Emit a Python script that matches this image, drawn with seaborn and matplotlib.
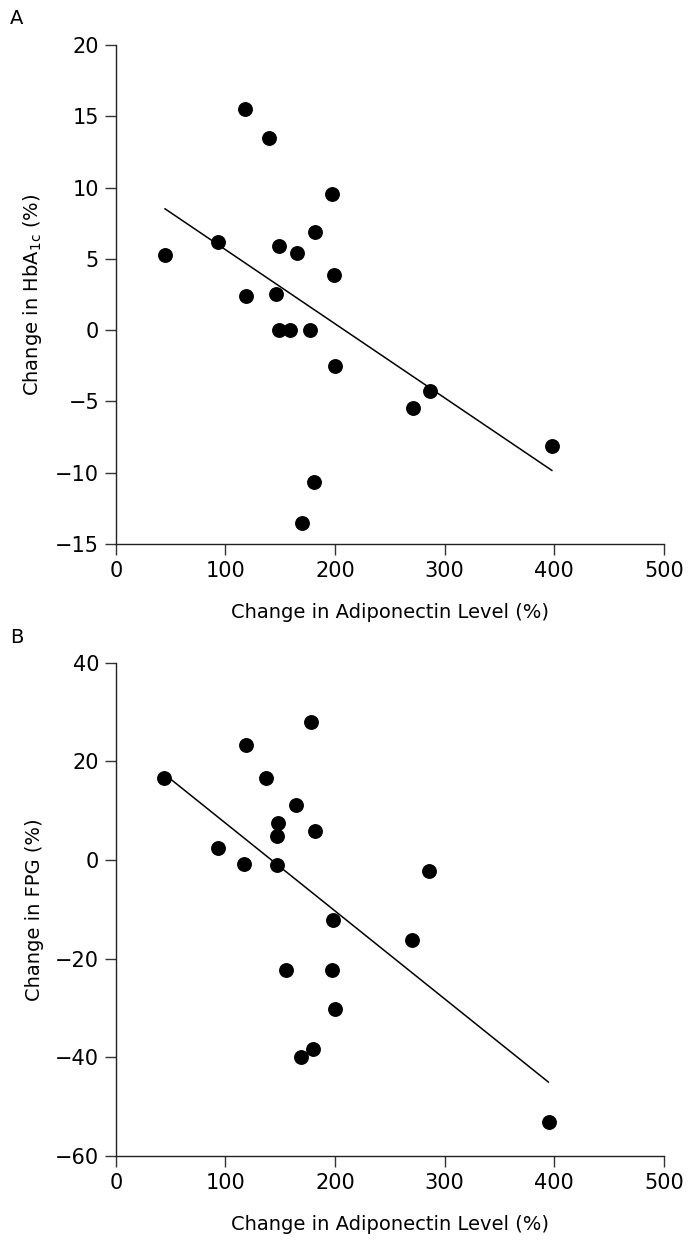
import numpy as np
import pandas as pd
import matplotlib
matplotlib.use('Agg')
import matplotlib.pyplot as plt
import seaborn as sns

# Painel A: variação da HbA1c vs variação da adiponectina
adipo_a = [44.8, 93.7, 117.7, 118.9, 140.1, 149.3, 146.1, 149.3, 159.3, 165.7,
           177.3, 197.0, 181.3, 199.0, 199.8, 180.5, 170.1, 271.4, 286.6, 397.9]
hba1c = [5.3, 6.2, 15.5, 2.4, 13.5, 5.9, 2.5, 0.0, 0.0, 5.4,
         0.0, 9.55, 6.9, 3.9, -2.55, -10.66, -13.5, -5.43, -4.3, -8.1]

# Painel B: variação da glicemia de jejum vs variação da adiponectina
adipo_b = [43.6, 93.7, 117.3, 118.9, 137.3, 164.1, 147.7, 146.9, 146.9, 178.1,
           181.3, 198.2, 155.7, 197.0, 199.8, 179.7, 168.9, 270.6, 285.8, 394.7]
fpg = [16.6, 2.4, -0.7, 23.4, 16.6, 11.1, 7.5, 4.9, -1.0, 27.9,
       5.8, -12.2, -22.3, -22.3, -30.2, -38.2, -39.9, -16.2, -2.2, -53.0]

x_ticks = [0, 100, 200, 300, 400, 500]
y_ticks_a = [-15, -10, -5, 0, 5, 10, 15, 20]
y_ticks_b = [-60, -40, -20, 0, 20, 40]

df_a = pd.DataFrame({'adipo': adipo_a, 'val': hba1c})
df_b = pd.DataFrame({'adipo': adipo_b, 'val': fpg})

sns.set_style('ticks')
plt.rcParams['font.family'] = ['DejaVu Sans']
plt.rcParams['text.color'] = 'black'
plt.rcParams['axes.labelcolor'] = 'black'
plt.rcParams['xtick.color'] = 'black'
plt.rcParams['ytick.color'] = 'black'

fig = plt.figure(figsize=(6.89, 12.42), dpi=100)
ax_a = fig.add_axes([0.168, 0.562, 0.7957, 0.4018])
ax_b = fig.add_axes([0.168, 0.0692, 0.7957, 0.3972])

paineis = [
    (ax_a, df_a, y_ticks_a, r'Change in HbA$_{\mathregular{1c}}$ (%)', 'A', 0.985),
    (ax_b, df_b, y_ticks_b, 'Change in FPG (%)', 'B', 0.487),
]

for ax, df, yt, ylab, letra, ypos in paineis:
    sns.regplot(data=df, x='adipo', y='val', ax=ax, ci=None, truncate=True,
                scatter_kws={'s': 115, 'color': 'black', 'linewidths': 0,
                             'alpha': 1, 'clip_on': False, 'zorder': 3},
                line_kws={'color': 'black', 'lw': 1.1})
    ax.set_xlim(0, 500)
    ax.set_ylim(yt[0], yt[-1])
    ax.set_xticks(x_ticks)
    ax.set_yticks(yt)
    ax.tick_params(length=8, width=1, color='#333333', labelsize=15, pad=4)
    ax.set_xlabel('Change in Adiponectin Level (%)', fontsize=14, labelpad=16)
    ax.set_ylabel(ylab, fontsize=14, labelpad=8)
    for s in ['left', 'bottom']:
        ax.spines[s].set_linewidth(1)
        ax.spines[s].set_color('#222222')
    sns.despine(ax=ax)
    fig.text(0.015, ypos, letra, fontsize=14, va='center', ha='left')

plt.savefig('out.png', dpi=100)
